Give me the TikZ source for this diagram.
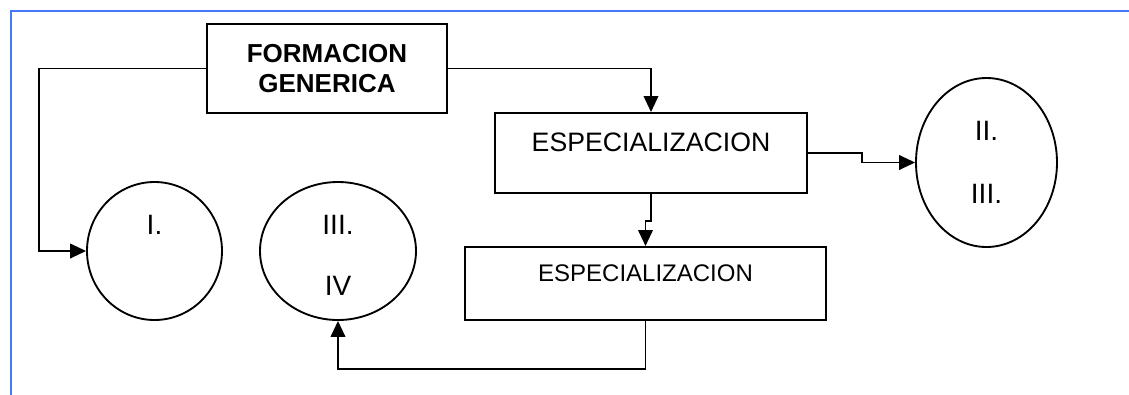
\documentclass[tikz,border=0pt]{standalone}
\usepackage{fontspec}
\setmainfont{Liberation Sans}
\usepackage{xcolor}
\usetikzlibrary{arrows.meta, shapes.geometric}
\definecolor{frameblue}{RGB}{70,120,250}

\begin{document}
\begin{tikzpicture}[
    x=0.75pt, y=-0.75pt,
    box/.style={draw, line width=1.5pt, inner sep=0pt},
    oval/.style={draw, ellipse, line width=1.4pt, inner sep=0pt, align=center, font=\fontsize{21}{25}\selectfont},
    arrow/.style={-{Triangle[length=12pt, width=11pt]}, line width=1.3pt},
    frame/.style={draw=frameblue, line width=2pt}
]
    \useasboundingbox (0,0) rectangle (1129,394);
    \draw[frame] (11,400) -- (11,11) -- (1135,11);

    \node[box, align=center, minimum width=180pt, minimum height=66.75pt, font=\bfseries\fontsize{19.5}{23}\selectfont] (gen) at (327,68.5) {FORMACION\\GENERICA};
    \node[box, minimum width=234pt, minimum height=60pt, font=\fontsize{20}{24}\selectfont, text height=10pt, text depth=13pt] (esp1) at (651,153) {ESPECIALIZACION};
    \node[box, minimum width=270.75pt, minimum height=54.75pt, font=\fontsize{18}{22}\selectfont, text height=10pt, text depth=13pt] (esp2) at (645.5,283.5) {ESPECIALIZACION};

    \node[oval, minimum width=101.25pt, minimum height=103.5pt, text height=10pt, text depth=35pt] (uno) at (154.5,251) {I.};
    \node[oval, minimum width=117pt, minimum height=103.5pt, font=\fontsize{21}{46}\selectfont] (tres) at (338,251) {\rule{0pt}{21pt}III.\\IV};
    \node[oval, minimum width=105.75pt, minimum height=126.75pt, font=\fontsize{21}{47}\selectfont] (dos) at (986.5,162.5) {II.\\III.};

    \coordinate (bend) at (39,250);
    \draw[arrow] (gen.west) -| (bend) |- (uno.west);
    \draw[arrow] (gen.east) -| (esp1.north);
    \draw[arrow] (esp1.east) -- ++(54,0) |- (dos.west);
    \draw[arrow] (esp1.south) -- ++(0,27) -| (esp2.north);
    \draw[arrow] (esp2.south) -- ++(0,48) -| (tres.south);
\end{tikzpicture}
\end{document}
